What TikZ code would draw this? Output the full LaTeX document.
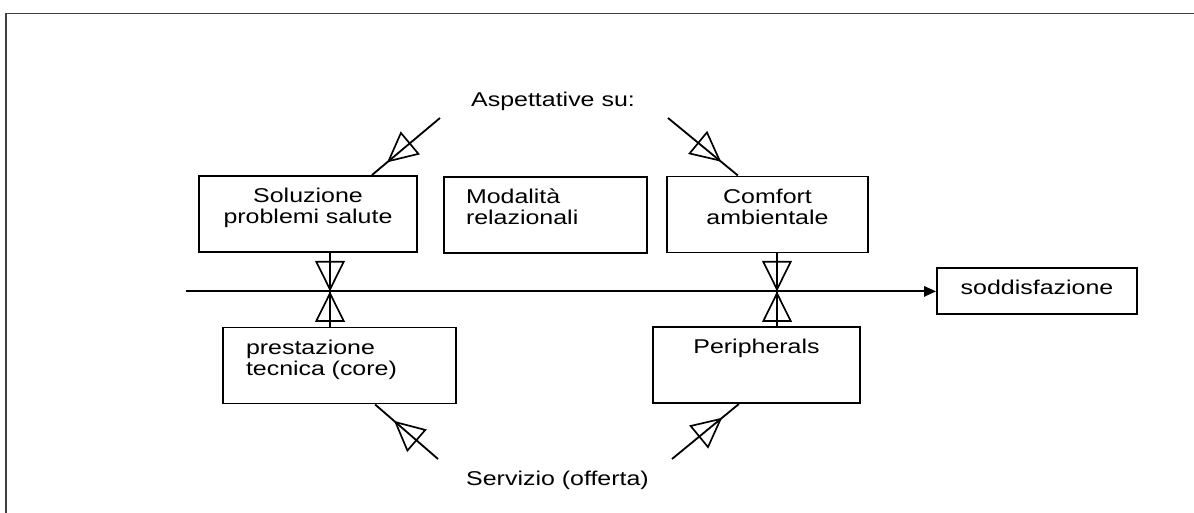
\documentclass[tikz,border=0pt]{standalone}
\usepackage{fontspec}
\newfontfamily\diafont{Liberation Sans}[FakeStretch=1.25]
\usepackage{tikz}
\usetikzlibrary{arrows.meta,decorations.markings}

\begin{document}
\begin{tikzpicture}[x=1cm,y=1cm,
  box/.style={draw,line width=1.4pt,inner ysep=0pt,text height=0.675cm,text depth=1.225cm,
    font=\diafont\fontsize{14.2}{14.9}\selectfont},
  conn/.style={line width=1.3pt},
  tipat/.style={postaction={decorate},decoration={markings,
    mark=at position #1 with {\arrow[line width=1.2pt]{Triangle[open,length=0.76cm,width=0.74cm]}}}},
  lbl/.style={font=\diafont\fontsize{14.2}{14.9}\selectfont,inner sep=0pt,anchor=base}]
  \useasboundingbox (0,0) rectangle (29.85,12.825);
  \draw[line width=0.8pt,black!75] (0.15,0) -- (0.15,12.49) -- (29.85,12.49);
  \node[lbl] (asp) at (13.825,10.15) {Aspettative su:};
  \node[lbl] (ser) at (13.9375,0.675) {Servizio (offerta)};
  \node[box,inner xsep=0.2cm,text width=5.05cm,align=center] (sol) at (7.70,7.475) {Soluzione\\problemi salute};
  \node[box,inner xsep=0.55cm,text width=3.975cm,align=left] (mod) at (13.6375,7.45) {Modalità\\relazionali};
  \node[box,inner xsep=0.2cm,text width=4.625cm,align=center] (com) at (19.1875,7.4625) {Comfort\\ambientale};
  \node[box,inner xsep=0.575cm,text width=4.675cm,align=left] (pre) at (8.4875,3.6875) {prestazione\\tecnica (core)};
  \node[box,inner xsep=0.2cm,text width=4.775cm,align=center] (per) at (18.9125,3.70) {Peripherals};
  \node[box,text height=0.65cm,text depth=0.5cm,minimum width=5cm] (sod) at (25.925,5.54) {soddisfazione};
  \coordinate (asp1) at (11.0,9.875);
  \coordinate (asp2) at (16.7,9.875);
  \coordinate (ser1) at (10.95,1.35);
  \coordinate (ser2) at (16.8,1.35);
  \coordinate (in) at (4.65,5.54);
  \coordinate (xl) at (8.25,5.54);
  \coordinate (xr) at (19.425,5.54);
  \draw[conn,tipat=0.78] (asp1) -- ([xshift=1.6cm]sol.north);
  \draw[conn,tipat=0.76] (asp2) -- ([xshift=-0.74cm]com.north);
  \draw[conn,tipat=1] (xl |- sol.south) -- (xl);
  \draw[conn,tipat=1] (xl |- pre.north) -- (xl);
  \draw[conn,tipat=1] (xr |- com.south) -- (xr);
  \draw[conn,tipat=1] (xr |- per.north) -- (xr);
  \draw[conn,tipat=0.7] (ser1) -- ([xshift=0.89cm]pre.south);
  \draw[conn,tipat=0.75] (ser2) -- ([xshift=-0.44cm]per.south);
  \draw[conn,-{Triangle[length=3mm,width=2.6mm]}] (in) -- (sod.west);
\end{tikzpicture}
\end{document}
